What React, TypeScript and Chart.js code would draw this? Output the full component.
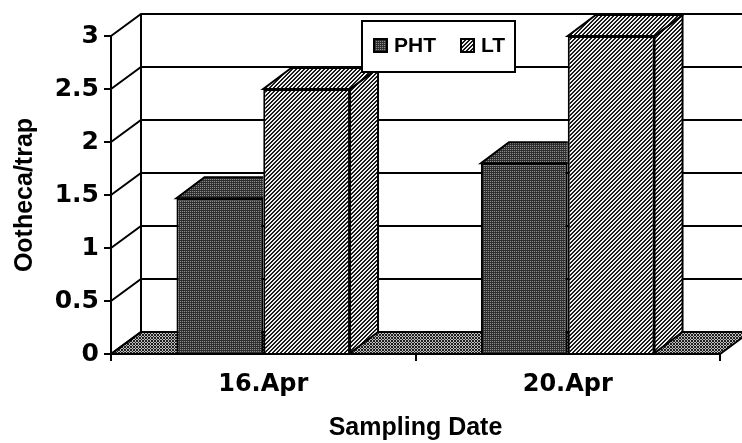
import React, { useEffect, useRef } from "react";
import { Chart, registerables } from "chart.js";

Chart.register(...registerables);

const categories = ["16.Apr", "20.Apr"];
const seriesNames = ["PHT", "LT"];
const phtValues = [1.47, 1.8];
const ltValues = [2.5, 3.0];
const yTickValues = [0, 0.5, 1, 1.5, 2, 2.5, 3];
const xTitle = "Sampling Date";
const yTitle = "Ootheca/trap";

const W = 742;
const H = 443;
const WALL_DX = 30;
const WALL_DY = -22;
const BAR_DX = 28;
const BAR_DY = -21;

function makePattern(kind: string): CanvasPattern | string {
  const size = kind === "floor" ? 3 : 4;
  const c = document.createElement("canvas");
  c.width = size;
  c.height = size;
  const ctx = c.getContext("2d");
  if (!ctx) return "#777";
  const img = ctx.createImageData(size, size);
  for (let y = 0; y < size; y++) {
    for (let x = 0; x < size; x++) {
      let v = 128;
      if (kind === "pht") v = y % 2 === 0 ? 45 : x % 2 === 0 ? 140 : 55;
      else if (kind === "lt") v = (x + y) % 4 < 2 ? 25 : 240;
      else if (kind === "floor") v = (x + y) % 3 === 0 || (x - y + 9) % 3 === 0 ? 30 : 190;
      const i = (y * size + x) * 4;
      img.data[i] = v;
      img.data[i + 1] = v;
      img.data[i + 2] = v;
      img.data[i + 3] = 255;
    }
  }
  ctx.putImageData(img, 0, 0);
  const p = ctx.createPattern(c, "repeat");
  return p || "#777";
}

export default function App() {
  const ref = useRef<HTMLCanvasElement | null>(null);

  useEffect(() => {
    document.body.style.margin = "0";
    document.body.style.background = "#fff";
    const canvas = ref.current;
    if (!canvas) return;

    const phtPattern = makePattern("pht");
    const ltPattern = makePattern("lt");
    const floorPattern = makePattern("floor");
    const patterns = [phtPattern, ltPattern];

    const poly = (ctx: CanvasRenderingContext2D, pts: number[][], fill: any) => {
      ctx.beginPath();
      ctx.moveTo(pts[0][0], pts[0][1]);
      for (let k = 1; k < pts.length; k++) ctx.lineTo(pts[k][0], pts[k][1]);
      ctx.closePath();
      ctx.fillStyle = fill;
      ctx.fill();
      ctx.stroke();
    };

    const threeD = {
      id: "threeD",
      beforeDatasetsDraw(chart: any) {
        const { ctx, chartArea, scales } = chart;
        const yS = scales.y;
        const L = chartArea.left;
        const R = chartArea.right;
        const y0 = yS.getPixelForValue(0);
        const yTop = yS.getPixelForValue(yTickValues[yTickValues.length - 1]);
        ctx.save();
        ctx.lineWidth = 2;
        ctx.strokeStyle = "#000";
        ctx.lineJoin = "miter";
        // floor
        ctx.beginPath();
        ctx.moveTo(L, y0);
        ctx.lineTo(R, y0);
        ctx.lineTo(R + WALL_DX, y0 + WALL_DY);
        ctx.lineTo(W + 10, y0 + WALL_DY);
        ctx.lineTo(L + WALL_DX, y0 + WALL_DY);
        ctx.closePath();
        ctx.fillStyle = floorPattern;
        ctx.fill();
        ctx.stroke();
        // back wall grid lines and depth diagonals
        for (const v of yTickValues) {
          const py = yS.getPixelForValue(v);
          ctx.beginPath();
          ctx.moveTo(L, py);
          ctx.lineTo(L + WALL_DX, py + WALL_DY);
          ctx.lineTo(W + 5, py + WALL_DY);
          ctx.stroke();
        }
        ctx.beginPath();
        ctx.moveTo(L + WALL_DX, yTop + WALL_DY);
        ctx.lineTo(L + WALL_DX, y0 + WALL_DY);
        ctx.stroke();
        ctx.restore();
      },
      afterDatasetsDraw(chart: any) {
        const { ctx } = chart;
        const m0 = chart.getDatasetMeta(0);
        const m1 = chart.getDatasetMeta(1);
        ctx.save();
        ctx.lineWidth = 2;
        ctx.strokeStyle = "#000";
        ctx.lineJoin = "miter";
        for (let i = 0; i < categories.length; i++) {
          const a = m0.data[i].getProps(["x", "y", "base", "width"], true);
          const b = m1.data[i].getProps(["x", "y", "base", "width"], true);
          const aL = a.x - a.width / 2;
          const aR = a.x + a.width / 2;
          const bL = b.x - b.width / 2;
          const bR = b.x + b.width / 2;
          // PHT top face (hidden behind LT bar on the right)
          ctx.save();
          ctx.beginPath();
          ctx.rect(0, 0, bL, H);
          ctx.clip();
          poly(
            ctx,
            [
              [aL, a.y],
              [aR, a.y],
              [aR + BAR_DX, a.y + BAR_DY],
              [aL + BAR_DX, a.y + BAR_DY],
            ],
            patterns[0]
          );
          ctx.restore();
          // LT side face
          poly(
            ctx,
            [
              [bR, b.y],
              [bR + BAR_DX, b.y + BAR_DY],
              [bR + BAR_DX, b.base + BAR_DY],
              [bR, b.base],
            ],
            patterns[1]
          );
          // LT top face
          poly(
            ctx,
            [
              [bL, b.y],
              [bR, b.y],
              [bR + BAR_DX, b.y + BAR_DY],
              [bL + BAR_DX, b.y + BAR_DY],
            ],
            patterns[1]
          );
        }
        // legend box
        const bx = 362;
        const by = 21;
        const bw = 153;
        const bh = 51;
        ctx.fillStyle = "#fff";
        ctx.fillRect(bx, by, bw, bh);
        ctx.strokeRect(bx, by, bw, bh);
        ctx.font = "bold 21px 'Liberation Sans', Arial, sans-serif";
        ctx.textBaseline = "middle";
        ctx.textAlign = "left";
        const items = [
          { sx: 374, tx: 394 },
          { sx: 461, tx: 481 },
        ];
        chart.data.datasets.forEach((ds: any, k: number) => {
          const it = items[k];
          ctx.fillStyle = patterns[k];
          ctx.fillRect(it.sx, 39, 13, 13);
          ctx.lineWidth = 2;
          ctx.strokeRect(it.sx, 39, 13, 13);
          ctx.fillStyle = "#000";
          ctx.fillText(ds.label, it.tx, 46);
        });
        ctx.restore();
      },
    };

    const tickFont = { family: "'DejaVu Sans', sans-serif", size: 25, weight: "bold" as const };
    const xTickFont = { family: "'DejaVu Sans', sans-serif", size: 24, weight: "bold" as const };
    const titleFont = { family: "'Liberation Sans', Arial, sans-serif", size: 25, weight: "bold" as const };

    const chart = new Chart(canvas, {
      type: "bar",
      data: {
        labels: categories,
        datasets: [
          {
            label: seriesNames[0],
            data: phtValues,
            backgroundColor: phtPattern as any,
            borderColor: "#000",
            borderWidth: 2,
            categoryPercentage: 0.57,
            barPercentage: 1,
            clip: false as any,
          },
          {
            label: seriesNames[1],
            data: ltValues,
            backgroundColor: ltPattern as any,
            borderColor: "#000",
            borderWidth: 2,
            categoryPercentage: 0.57,
            barPercentage: 1,
            clip: false as any,
          },
        ],
      },
      options: {
        responsive: false,
        animation: false,
        layout: { padding: { top: 36, right: 22, left: 0, bottom: 0 } },
        plugins: {
          legend: { display: false },
          tooltip: { enabled: false },
        },
        scales: {
          x: {
            offset: true,
            grid: {
              display: true,
              drawOnChartArea: false,
              drawTicks: true,
              tickLength: 7,
              color: "#000",
              lineWidth: 2,
              offset: true,
            },
            border: { display: true, color: "#000", width: 2 },
            ticks: { color: "#000", font: xTickFont, padding: 9, maxRotation: 0 },
            title: { display: true, text: xTitle, color: "#000", font: titleFont, padding: 0 },
            afterFit: (s: any) => {
              s.height = 89;
            },
          },
          y: {
            min: 0,
            max: 3,
            ticks: {
              stepSize: 0.5,
              color: "#000",
              font: tickFont,
              padding: 5,
              callback: (v: any) => String(Number(v)),
            },
            grid: {
              display: true,
              drawOnChartArea: false,
              drawTicks: true,
              tickLength: 7,
              color: "#000",
              lineWidth: 2,
            },
            border: { display: true, color: "#000", width: 2 },
            title: { display: true, text: yTitle, color: "#000", font: titleFont, padding: 10 },
            afterFit: (s: any) => {
              s.width = 111;
            },
          },
        },
      },
      plugins: [threeD],
    } as any);

    return () => {
      chart.destroy();
    };
  }, []);

  return (
    <div style={{ width: W, height: H, background: "#fff" }}>
      <canvas ref={ref} width={W} height={H} style={{ display: "block" }} />
    </div>
  );
}
